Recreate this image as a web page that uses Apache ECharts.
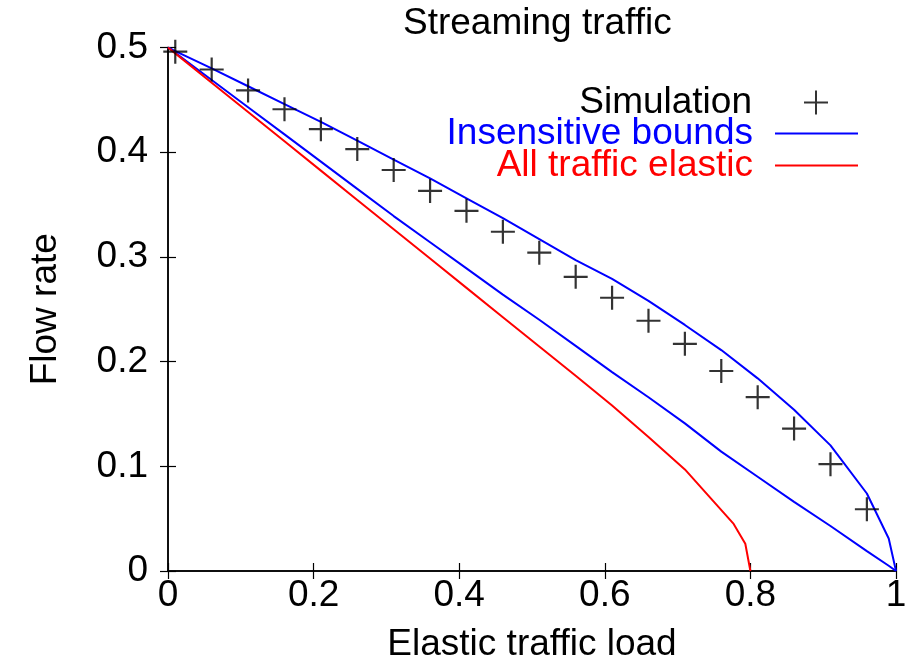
<!DOCTYPE html>
<html>
<head>
<meta charset="utf-8">
<script src="https://cdn.jsdelivr.net/npm/echarts@6/dist/echarts.min.js"></script>
<style>
html,body{margin:0;padding:0;background:#fff;}
#c{width:919px;height:668px;}
</style>
</head>
<body>
<div id="c"></div>
<script>
// ---- data ----
const simX = [0.01,0.06,0.11,0.16,0.21,0.26,0.31,0.36,0.41,0.46,0.51,0.56,0.61,0.66,0.71,0.76,0.81,0.86,0.91,0.96];
const simY = [0.496,0.479,0.459,0.441,0.422,0.403,0.383,0.363,0.344,0.324,0.304,0.281,0.261,0.239,0.217,0.191,0.166,0.136,0.102,0.059];

const boundX = [0,0.01,0.06,0.11,0.16,0.21,0.26,0.31,0.36,0.41,0.46,0.51,0.56,0.61,0.66,0.71,0.76,0.81,0.86,0.91,0.96,0.99,1];
const upperBound = [0.5,0.4965,0.480,0.463,0.446,0.429,0.411,0.393,0.375,0.356,0.337,0.317,0.297,0.279,0.258,0.235,0.211,0.184,0.154,0.120,0.074,0.031,0];
const lowerBound = [0.5,0.495,0.469,0.443,0.417,0.391,0.365,0.339,0.314,0.289,0.264,0.240,0.215,0.190,0.166,0.141,0.114,0.090,0.066,0.043,0.019,0.005,0];

const elasticX = [0,0.01,0.06,0.11,0.16,0.21,0.26,0.31,0.36,0.41,0.46,0.51,0.56,0.61,0.66,0.71,0.777,0.793,0.80];
const elasticY = [0.5,0.4944,0.4664,0.4384,0.4104,0.3824,0.3544,0.3264,0.2984,0.2704,0.2424,0.2144,0.1864,0.158,0.128,0.097,0.045,0.026,0];

const xTicks = [0,0.2,0.4,0.6,0.8,1];
const yTicks = [0,0.1,0.2,0.3,0.4,0.5];

const seriesNames = ['Simulation','Insensitive bounds','All traffic elastic'];
const titleText = 'Streaming traffic';
const xName = 'Elastic traffic load';
const yName = 'Flow rate';

// ---- build ----
const FONT = 'Liberation Sans';
const FS = 37;
const zip = (xs, ys) => xs.map((x, i) => [x, ys[i]]);
const crossPath = 'path://M0,12L24,12M12,0L12,24';

const axisCommon = {
  type: 'value',
  axisLine: { show: true, lineStyle: { color: '#000', width: 1.5 } },
  axisTick: { show: true, inside: true, length: 8, lineStyle: { color: '#000', width: 1.2 } },
  splitLine: { show: false }
};

const chart = echarts.init(document.getElementById('c'), null, { renderer: 'canvas' });
chart.setOption({
  animation: false,
  backgroundColor: '#fff',
  title: {
    text: titleText,
    left: 403, top: 5,
    padding: 0,
    textStyle: { fontFamily: FONT, fontSize: FS, fontWeight: 'normal', color: '#000' }
  },
  grid: { left: 168, right: 23, top: 47.5, bottom: 94 },
  xAxis: [
    Object.assign({}, axisCommon, {
      position: 'bottom', min: xTicks[0], max: xTicks[xTicks.length - 1], interval: xTicks[1] - xTicks[0],
      name: xName, nameLocation: 'middle', nameGap: 55,
      nameTextStyle: { fontFamily: FONT, fontSize: FS, color: '#000' },
      axisLabel: { show: true, margin: 6, fontFamily: FONT, fontSize: FS, color: '#000' }
    }),
    Object.assign({}, axisCommon, {
      position: 'top', min: xTicks[0], max: xTicks[xTicks.length - 1], interval: xTicks[1] - xTicks[0],
      axisLabel: { show: false }
    })
  ],
  yAxis: [
    Object.assign({}, axisCommon, {
      position: 'left', min: yTicks[0], max: yTicks[yTicks.length - 1], interval: yTicks[1] - yTicks[0],
      name: yName, nameLocation: 'middle', nameGap: 104,
      nameTextStyle: { fontFamily: FONT, fontSize: FS, color: '#000' },
      axisLabel: { show: true, margin: 20, fontFamily: FONT, fontSize: FS, color: '#000' }
    }),
    Object.assign({}, axisCommon, {
      position: 'right', min: yTicks[0], max: yTicks[yTicks.length - 1], interval: yTicks[1] - yTicks[0],
      axisLabel: { show: false }
    })
  ],
  legend: [
    {
      data: [{ name: seriesNames[0], icon: crossPath }],
      orient: 'vertical', align: 'right', right: 90, top: 84, padding: 0,
      itemWidth: 24, itemHeight: 24, selectedMode: false,
      itemStyle: { color: 'rgba(0,0,0,0)', borderColor: '#000', borderWidth: 2 },
      textStyle: { fontFamily: FONT, fontSize: FS, color: '#000', padding: [0, 47, 0, 0] }
    },
    {
      data: [{ name: seriesNames[1], icon: 'rect' }],
      orient: 'vertical', align: 'right', right: 61, top: 115, padding: 0,
      itemWidth: 83, itemHeight: 2, selectedMode: false,
      itemStyle: { color: '#0000ff', borderWidth: 0 },
      textStyle: { fontFamily: FONT, fontSize: FS, color: '#0000ff', padding: [0, 17, 0, 0] }
    },
    {
      data: [{ name: seriesNames[2], icon: 'rect' }],
      orient: 'vertical', align: 'right', right: 61, top: 147, padding: 0,
      itemWidth: 83, itemHeight: 2, selectedMode: false,
      itemStyle: { color: '#ff0000', borderWidth: 0 },
      textStyle: { fontFamily: FONT, fontSize: FS, color: '#ff0000', padding: [0, 17, 0, 0] }
    }
  ],
  series: [
    {
      name: seriesNames[1], type: 'line', data: zip(boundX, upperBound),
      symbol: 'none', showSymbol: false, z: 2,
      lineStyle: { color: '#0000ff', width: 2 }, itemStyle: { color: '#0000ff' }
    },
    {
      name: seriesNames[1], type: 'line', data: zip(boundX, lowerBound),
      symbol: 'none', showSymbol: false, z: 2,
      lineStyle: { color: '#0000ff', width: 2 }, itemStyle: { color: '#0000ff' }
    },
    {
      name: seriesNames[2], type: 'line', data: zip(elasticX, elasticY),
      symbol: 'none', showSymbol: false, z: 2,
      lineStyle: { color: '#ff0000', width: 2 }, itemStyle: { color: '#ff0000' }
    },
    {
      name: seriesNames[0], type: 'scatter', data: zip(simX, simY),
      symbol: crossPath, symbolSize: 24, z: 3,
      itemStyle: { color: 'rgba(0,0,0,0)', borderColor: '#000', borderWidth: 2.2 }
    }
  ]
});
</script>
</body>
</html>
